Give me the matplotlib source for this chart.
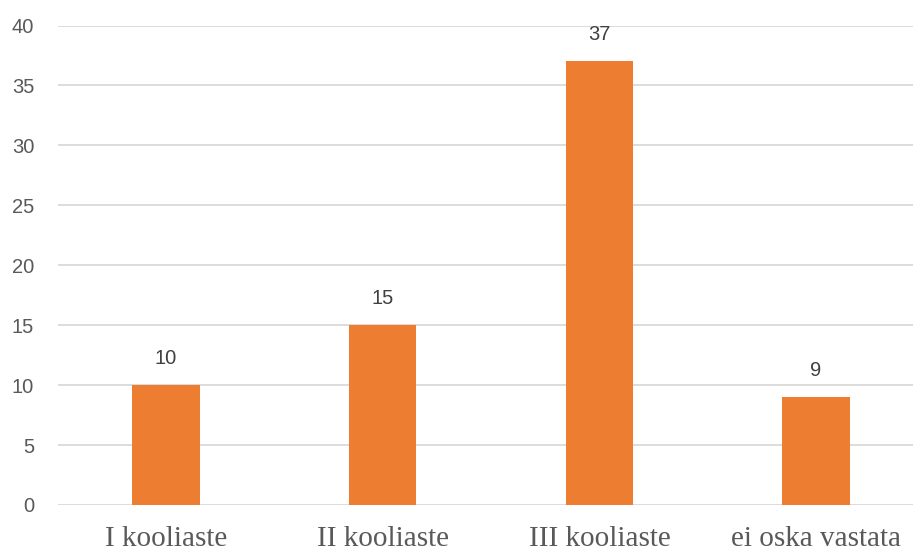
import matplotlib.pyplot as plt

categories = ["I kooliaste", "II kooliaste", "III kooliaste", "ei oska vastata"]
values = [10, 15, 37, 9]

fig = plt.figure(figsize=(9.13, 5.51), dpi=100)
ax = fig.add_axes([57.7 / 913, 46 / 551, 866.7 / 913, 479.5 / 551])

x = range(len(categories))
bars = ax.bar(x, values, width=0.31, color="#ED7D31", zorder=3)

ax.set_xlim(-0.5, len(categories) - 0.5)
ax.set_ylim(0, 40)
ax.set_yticks(range(0, 41, 5))
ax.yaxis.grid(True, color="#D9D9D9", linewidth=1.3, zorder=0)
ax.set_axisbelow(True)
for s in ax.spines.values():
    s.set_visible(False)
ax.tick_params(axis="both", length=0)
ax.tick_params(axis="y", pad=17)
ax.tick_params(axis="x", pad=15)

ax.set_xticks(list(x))
ax.set_xticklabels(categories, family="Liberation Serif", fontsize=21, color="#595959")
for lab in ax.get_yticklabels():
    lab.set_family("Liberation Sans")
    lab.set_fontsize(14.5)
    lab.set_color("#595959")

for b, v in zip(bars, values):
    ax.annotate(str(v), (b.get_x() + b.get_width() / 2, v),
                xytext=(0, 17), textcoords="offset pixels",
                ha="center", va="bottom", fontsize=14.5,
                family="Liberation Sans", color="#404040")

fig.savefig("out.png", dpi=100)
